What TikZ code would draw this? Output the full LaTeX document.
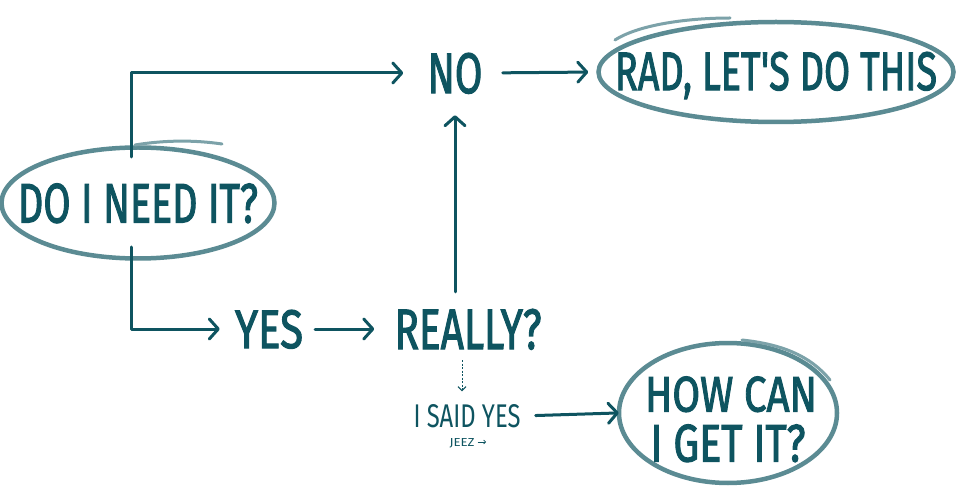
\documentclass[tikz,border=0pt]{standalone}
\usepackage{fontspec}
\setmainfont{Fira Sans}
\newfontfamily\hand[FakeBold=2.2]{Fira Sans}
\usetikzlibrary{arrows.meta,shapes.geometric,calc}
\definecolor{teal0}{HTML}{0E5460}
\colorlet{tealL}{teal0!68!white}
\newcommand\fitt[3]{\resizebox{#1}{#2}{\hand #3}}
\begin{document}
\begin{tikzpicture}[x=1pt,y=-1pt,
  txt/.style={inner sep=0pt,text depth=0pt,text=teal0},
  ell/.style={ellipse,draw=tealL,line width=4.5pt,inner sep=0pt},
  sk/.style={draw=tealL!80!white,line width=3pt,line cap=round},
  arr/.style={draw=teal0,line width=3pt,line cap=round,line join=round,
    -{Straight Barb[length=9pt,width=20pt,line cap=round,line join=round]}},
  darr/.style={draw=teal0,line width=1pt,dash pattern=on 2pt off 1.5pt,
    -{Straight Barb[length=4pt,width=8pt]}}]
\useasboundingbox[fill=white] (0,0) rectangle (959,489);
% ellipses
\node[ell,minimum width=273pt,minimum height=111pt] (e1) at (138,203) {};
\draw[sk] (135,145) .. controls (165,140) and (195,140) .. (222,144);
\node[ell,minimum width=355pt,minimum height=100pt] (e2) at (776,72) {};
\draw[sk] (615,40) .. controls (640,24) and (690,18) .. (730,18);
\node[ell,minimum width=218pt,minimum height=140pt] (e3) at (728,413) {};
\draw[sk] (742,340) .. controls (780,344) and (810,355) .. (830,380);
% texts
\node[txt] (t1) at (138,203) {\fitt{240pt}{39pt}{DO I NEED IT?}};
\node[txt] (no) at (455,73) {\fitt{55pt}{40pt}{NO}};
\node[txt] (t2) at (776,71) {\fitt{322pt}{38pt}{RAD, LET'S DO THIS}};
\node[txt] (yes) at (269,329) {\fitt{68pt}{38pt}{YES}};
\node[txt] (really) at (468,329) {\fitt{147pt}{40pt}{REALLY?}};
\node[txt] (isaid) at (467,416) {\resizebox{107pt}{23pt}{I SAID YES}};
\node[txt] (jeez) at (462,442) {\resizebox{25pt}{8pt}{JEEZ}};
\node[txt] (h1) at (731,394) {\fitt{172pt}{35pt}{HOW CAN}};
\node[txt] (h2) at (728,443) {\fitt{155pt}{37pt}{I GET IT?}};
% connectors
\coordinate (c1) at (131,157);
\coordinate (c2) at (131,247);
\draw[arr,shorten >=24pt] (c1) |- (no.west);
\draw[arr,shorten >=15pt] (c2) |- (yes.west);
\draw[arr,shorten <=12pt,shorten >=20pt] (yes.east) -- (really.west);
\draw[arr,shorten <=17pt,shorten >=22pt] (really.north -| no.south) -- (no.south);
\draw[arr,shorten <=20pt,shorten >=8pt] (no.east) -- (e2.west);
\draw[darr,shorten <=11pt,shorten >=13pt] ([xshift=-6pt]really.south) -- ([xshift=-5pt]isaid.north);
\draw[arr,shorten <=15pt,shorten >=-2pt] (isaid.east) -- (e3.west);
\coordinate (j1) at (486,442);
\draw[teal0,line width=0.6pt,-{Straight Barb[length=2pt,width=4pt]},shorten <=3pt] (jeez.east) -- (j1);
\end{tikzpicture}
\end{document}
